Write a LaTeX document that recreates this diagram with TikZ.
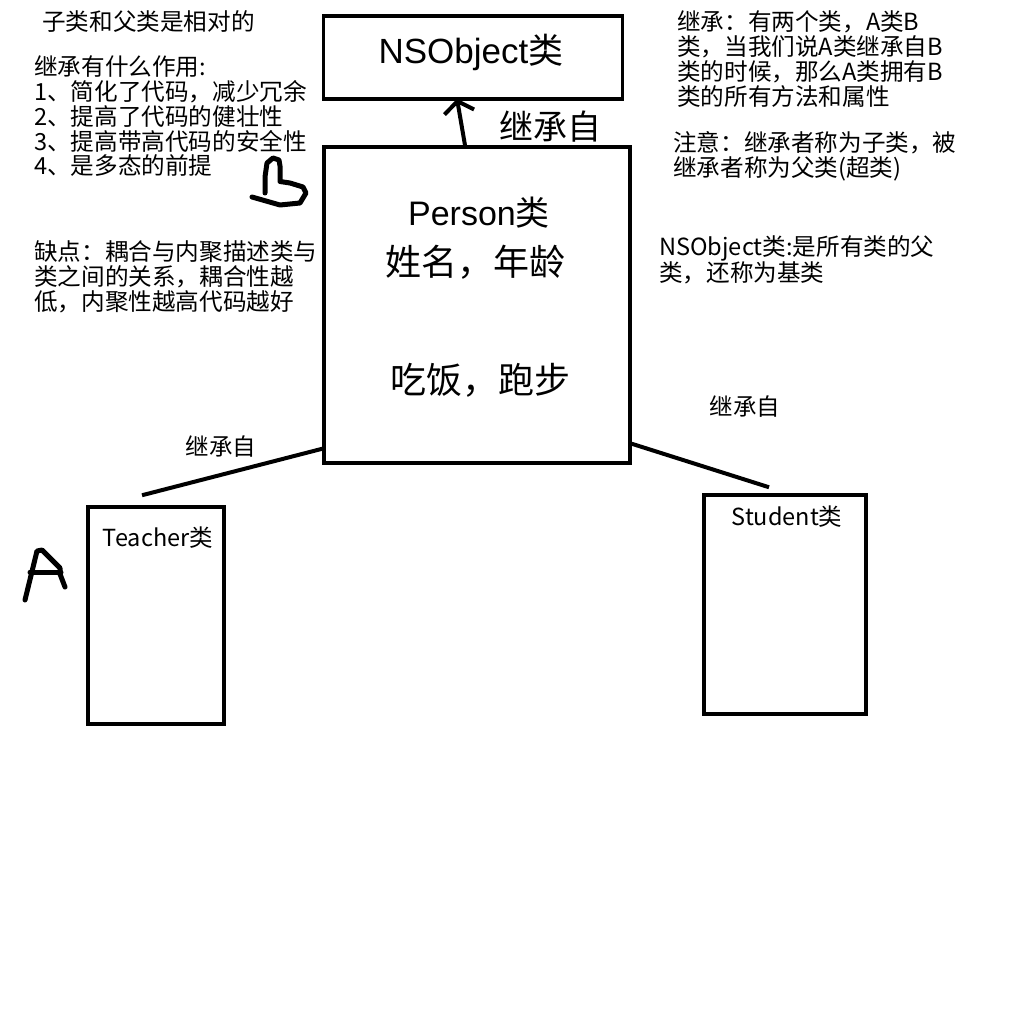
\documentclass[tikz,border=0pt]{standalone}
\usepackage{fontspec}
\setmainfont{Noto Sans CJK SC}
\newfontfamily\arialfont{Liberation Sans}
\usetikzlibrary{arrows.meta}
\begin{document}
\begin{tikzpicture}[x=1pt,y=-1pt,
  box/.style={draw, line width=3.5pt, inner sep=0pt},
  note/.style={anchor=base west, align=left, inner sep=0pt, font=\fontsize{23.6}{24.8}\selectfont},
  lbl/.style={inner sep=0pt},
  link/.style={line width=4pt},
  hand/.style={line width=5pt, line cap=round, line join=round}]
\useasboundingbox (0,0) rectangle (1024,1024);
\fill[white] (0,0) rectangle (1024,1024);

% boxes
\node[box, minimum width=299pt, minimum height=83pt] (ns) at (473,57.5) {};
\node[box, minimum width=306pt, minimum height=316pt] (person) at (477,305) {};
\node[box, minimum width=136pt, minimum height=217pt] (teacher) at (156,615.5) {};
\node[box, minimum width=162pt, minimum height=219pt] (student) at (785,604.5) {};

% box texts
\node[lbl, font=\fontsize{35}{35}\selectfont] (nst) at (471,52) {{\arialfont NSObject}类};
\node[lbl, font=\fontsize{34}{34}\selectfont] (pt) at (479,213) {{\arialfont Person}类};
\node[lbl, font=\fontsize{36}{36}\selectfont] (pattr) at (475,262) {姓名，年龄};
\node[lbl, font=\fontsize{36}{36}\selectfont] (pmeth) at (480,380) {吃饭，跑步};
\node[lbl, font=\fontsize{23.5}{23.5}\selectfont] (tt) at (158,538) {Teacher类};
\node[lbl, font=\fontsize{23.5}{23.5}\selectfont] (st) at (787,517) {Student类};

% connectors
\draw[link, -{Straight Barb[length=11pt,width=30pt]}] ([xshift=-12pt]person.north) -- ([xshift=-16pt,yshift=2pt]ns.south);
\draw[link] ([yshift=16pt]person.south west) -- ([xshift=-14pt,yshift=10pt]teacher.north);
\draw[link] ([yshift=21pt]person.south east) -- ([xshift=-16pt,yshift=6pt]student.north);

% connector labels
\node[lbl, font=\fontsize{34}{34}\selectfont] (l1) at (550,127) {继承自};
\node[lbl, font=\fontsize{23.5}{23.5}\selectfont] (l2) at (221,447) {继承自};
\node[lbl, font=\fontsize{23.5}{23.5}\selectfont] (l3) at (745,407) {继承自};

% notes left
\node[note] (n1) at (42,31) {子类和父类是相对的};
\node[note] (n2) at (34,175) {继承有什么作用:\\1、简化了代码，减少冗余\\2、提高了代码的健壮性\\3、提高带高代码的安全性\\4、是多态的前提};
\node[note] (n3) at (34,310) {缺点：耦合与内聚描述类与\\类之间的关系，耦合性越\\低，内聚性越高代码越好};

% notes right
\node[note, font=\fontsize{23.6}{25}\selectfont] (n4) at (677,106) {继承：有两个类，A类B\\类，当我们说A类继承自B\\类的时候，那么A类拥有B\\类的所有方法和属性};
\node[note, font=\fontsize{23.6}{25}\selectfont] (n5) at (673,177) {注意：继承者称为子类，被\\继承者称为父类(超类)};
\node[note, font=\fontsize{23.6}{26}\selectfont] (n6) at (659,281) {NSObject类:是所有类的父\\类，还称为基类};

% hand-drawn marks
\draw[hand] (252,197) -- (280,205) -- (300,203) -- (306,193) -- (303,187) -- (290,183) -- (280,181.5) -- (280,166) -- (279,160) -- (273,158) -- (267,163) -- (265,177) -- (265,193);
\draw[hand] (25,600) -- (37,551) -- (42,550) -- (60,568) -- (60,574) -- (65,587);
\draw[hand] (30,572) -- (61,572);
\end{tikzpicture}
\end{document}
